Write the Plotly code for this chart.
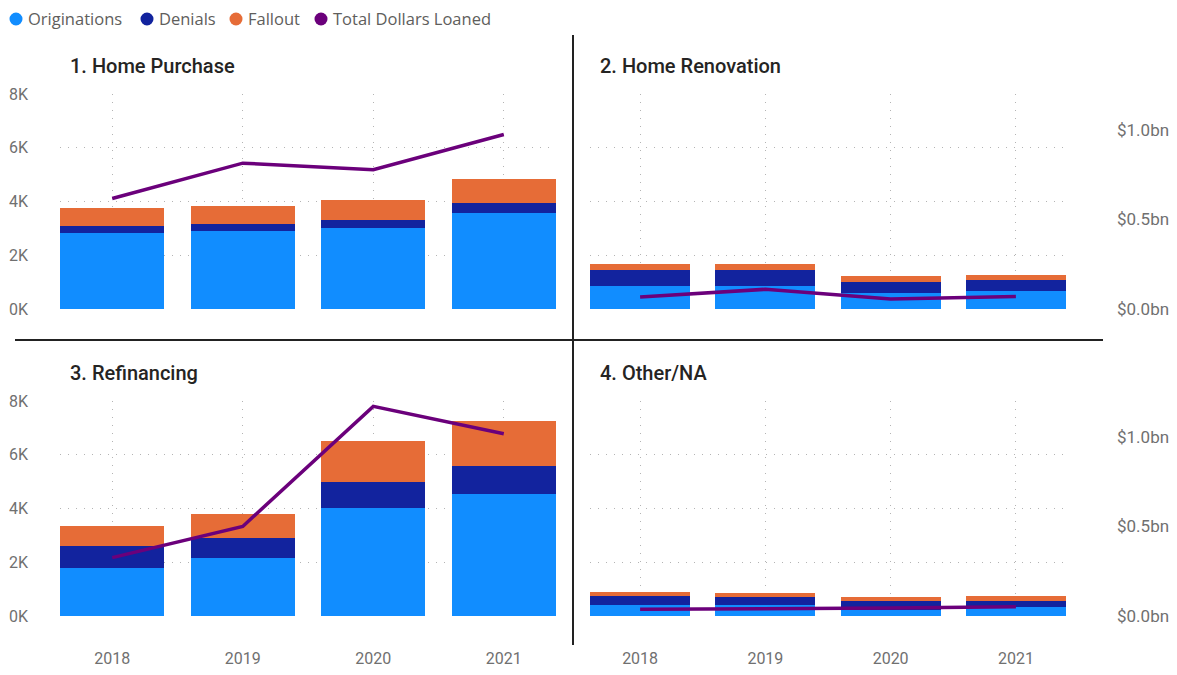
import plotly.graph_objects as go

# The page body has an 8px margin, so the figure is drawn 8px in from the top-left.
OFF = 8
W, H = 1177 - 2 * OFF, 675 - 2 * OFF


def px(x):
    return (x - OFF) / W


def py(y):
    return 1 - (y - OFF) / H


years = ["2018", "2019", "2020", "2021"]
panels = ["1. Home Purchase", "2. Home Renovation", "3. Refinancing", "4. Other/NA"]
series_names = ["Originations", "Denials", "Fallout", "Total Dollars Loaned"]

# counts (stacked): originations, denials, fallout per panel
originations = {
    "1. Home Purchase": [2840, 2890, 3000, 3580],
    "2. Home Renovation": [840, 840, 590, 680],
    "3. Refinancing": [1800, 2160, 4030, 4550],
    "4. Other/NA": [410, 410, 220, 350],
}
denials = {
    "1. Home Purchase": [260, 260, 310, 370],
    "2. Home Renovation": [620, 620, 420, 410],
    "3. Refinancing": [810, 760, 970, 1050],
    "4. Other/NA": [330, 280, 350, 220],
}
fallout = {
    "1. Home Purchase": [650, 690, 760, 880],
    "2. Home Renovation": [210, 220, 200, 170],
    "3. Refinancing": [750, 860, 1500, 1670],
    "4. Other/NA": [170, 150, 150, 170],
}
# total dollars loaned (in $)
dollars = {
    "1. Home Purchase": [0.617e9, 0.814e9, 0.777e9, 0.974e9],
    "2. Home Renovation": [0.067e9, 0.110e9, 0.056e9, 0.070e9],
    "3. Refinancing": [0.326e9, 0.500e9, 1.170e9, 1.017e9],
    "4. Other/NA": [0.037e9, 0.039e9, 0.045e9, 0.052e9],
}

count_ticks = [0, 2000, 4000, 6000, 8000]
count_labels = ["0K", "2K", "4K", "6K", "8K"]
dollar_ticks = [0, 0.5e9, 1.0e9]
dollar_labels = ["$0.0bn", "$0.5bn", "$1.0bn"]

C_ORIG = "#118DFF"
C_DEN = "#12239E"
C_FALL = "#E66C37"
C_LINE = "#6B007B"
colors = [C_ORIG, C_DEN, C_FALL, C_LINE]
GRID = "#B4B4B4"
GDASH = "1px,7px"
TICKC = "#707070"
FONT = "Roboto"

# panel geometry in screen pixels: (x0, x1, ybottom, ytop)
geo = [
    (60, 556, 309, 94),
    (590, 1066, 309, 94),
    (60, 556, 616, 401),
    (590, 1066, 616, 401),
]

fig = go.Figure()
layout = {}
for i, (name, (x0, x1, yb, yt)) in enumerate(zip(panels, geo)):
    xi = i + 1
    yc = 2 * i + 1
    yd = 2 * i + 2
    xname = "x" if xi == 1 else f"x{xi}"
    ycname = "y" if yc == 1 else f"y{yc}"
    ydname = f"y{yd}"
    for vals, label, col in [
        (originations[name], series_names[0], C_ORIG),
        (denials[name], series_names[1], C_DEN),
        (fallout[name], series_names[2], C_FALL),
    ]:
        fig.add_trace(go.Bar(x=years, y=vals, name=label, marker_color=col,
                             marker_line_width=0, xaxis=xname, yaxis=ycname,
                             legendgroup=label, showlegend=False))
    fig.add_trace(go.Scatter(x=years, y=dollars[name], name=series_names[3],
                             mode="lines", line=dict(color=C_LINE, width=3.5),
                             xaxis=xname, yaxis=ydname, legendgroup=series_names[3],
                             showlegend=False))
    bottom = i >= 2
    left = i % 2 == 0
    dom_x = [px(x0), px(x1)]
    dom_y = [py(yb), py(yt)]
    layout[f"xaxis{'' if xi == 1 else xi}"] = dict(
        domain=dom_x, anchor=ycname, type="category", range=[-0.4, 3.4],
        showgrid=True, gridcolor=GRID, griddash=GDASH, gridwidth=1,
        showline=False, zeroline=False, ticks="", automargin=False,
        showticklabels=bottom, ticklabelstandoff=31,
        tickfont=dict(family=FONT, size=16, color=TICKC),
    )
    layout[f"yaxis{'' if yc == 1 else yc}"] = dict(
        domain=dom_y, anchor=xname, range=[0, 8000],
        tickvals=count_ticks, ticktext=count_labels,
        showgrid=True, gridcolor=GRID, griddash=GDASH, gridwidth=1,
        zeroline=False, showline=False, ticks="", automargin=False,
        showticklabels=left, ticklabelstandoff=31,
        tickfont=dict(family=FONT, size=16, color=TICKC),
    )
    layout[f"yaxis{yd}"] = dict(
        overlaying=ycname, anchor=xname, side="right", range=[0, 1.2e9],
        tickvals=dollar_ticks, ticktext=dollar_labels,
        showgrid=False, zeroline=False, showline=False, ticks="", automargin=False,
        showticklabels=not left, ticklabelstandoff=50,
        tickfont=dict(family=FONT, size=17, color=TICKC),
    )

annotations = []
shapes = []

# legend row (circle swatch + label), placed like the reference's top legend
legend_x = [16, 147, 236, 321]
LEG_Y = 19
R = 6.5
for label, col, cx in zip(series_names, colors, legend_x):
    shapes.append(dict(type="circle", xref="paper", yref="paper",
                       x0=px(cx - R), x1=px(cx + R), y0=py(LEG_Y + R), y1=py(LEG_Y - R),
                       fillcolor=col, line=dict(width=0)))
    annotations.append(dict(text=label, x=px(cx + 10), y=py(LEG_Y), xref="paper", yref="paper",
                            xanchor="left", yanchor="middle", showarrow=False,
                            font=dict(family="Open Sans", size=16.5, color="#605E5C")))

title_pos = [(68, 66), (598, 66), (68, 373), (598, 373)]
for name, (tx, ty) in zip(panels, title_pos):
    annotations.append(dict(text=name, x=px(tx), y=py(ty), xref="paper", yref="paper",
                            xanchor="left", yanchor="middle", showarrow=False,
                            font=dict(family=FONT, size=20, color="#252423", weight=500)))

shapes += [
    dict(type="line", xref="paper", yref="paper", x0=px(573), x1=px(573),
         y0=py(35), y1=py(645), line=dict(color="#222222", width=2)),
    dict(type="line", xref="paper", yref="paper", x0=px(15), x1=px(1103),
         y0=py(340), y1=py(340), line=dict(color="#222222", width=2)),
]

fig.update_layout(
    width=W, height=H,
    margin=dict(l=0, r=0, t=0, b=0, autoexpand=False),
    paper_bgcolor="white", plot_bgcolor="white",
    barmode="stack", bargap=0.2,
    showlegend=False,
    annotations=annotations,
    shapes=shapes,
    **layout,
)

fig.write_html("out.html")
